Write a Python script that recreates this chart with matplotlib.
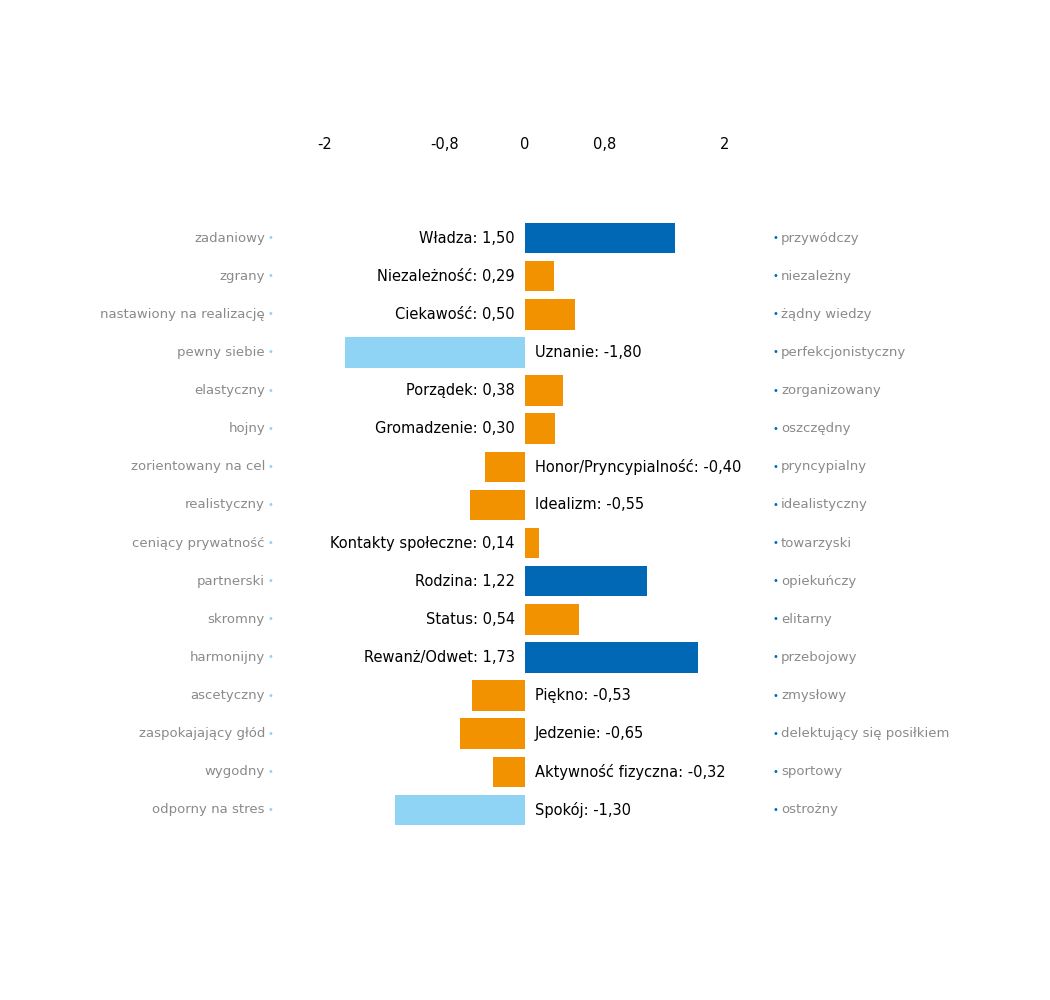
import matplotlib
matplotlib.use("Agg")
import matplotlib.pyplot as plt

names = ["Władza","Niezależność","Ciekawość","Uznanie","Porządek","Gromadzenie",
         "Honor/Pryncypialność","Idealizm","Kontakty społeczne","Rodzina","Status",
         "Rewanż/Odwet","Piękno","Jedzenie","Aktywność fizyczna","Spokój"]
values = [1.50,0.29,0.50,-1.80,0.38,0.30,-0.40,-0.55,0.14,1.22,0.54,1.73,-0.53,-0.65,-0.32,-1.30]
left_labels = ["zadaniowy","zgrany","nastawiony na realizację","pewny siebie","elastyczny","hojny",
               "zorientowany na cel","realistyczny","ceniący prywatność","partnerski","skromny",
               "harmonijny","ascetyczny","zaspokajający głód","wygodny","odporny na stres"]
right_labels = ["przywódczy","niezależny","żądny wiedzy","perfekcjonistyczny","zorganizowany",
                "oszczędny","pryncypialny","idealistyczny","towarzyski","opiekuńczy","elitarny",
                "przebojowy","zmysłowy","delektujący się posiłkiem","sportowy","ostrożny"]
tick_vals = [-2, -0.8, 0, 0.8, 2]
tick_labels = ["-2", "-0,8", "0", "0,8", "2"]

DB, OR, LB = "#0068b4", "#f39200", "#8fd3f5"
def col(v):
    return DB if v > 1 else (LB if v < -1 else OR)

fig = plt.figure(figsize=(10.5, 10), dpi=100)
ax = fig.add_axes([325/1050, 1-829/1000, 400/1050, 610/1000])
ys = list(range(len(values)))
ax.barh(ys, values, height=0.8, color=[col(v) for v in values])
ax.set_xlim(-2, 2)
ax.set_ylim(len(values)-0.5, -0.5)
for s in ax.spines.values():
    s.set_visible(False)
ax.set_yticks([])
ax.xaxis.tick_top()
ax.set_xticks(tick_vals)
ax.set_xticklabels(tick_labels, fontsize=10.5)
ax.tick_params(axis='x', length=0, pad=48)

tr = ax.get_yaxis_transform()
for y, n, v, l, r in zip(ys, names, values, left_labels, right_labels):
    lab = f"{n}: {v:.2f}".replace(".", ",")
    if v >= 0:
        ax.text(-0.1, y, lab, ha='right', va='center', fontsize=10.5)
    else:
        ax.text(0.1, y, lab, ha='left', va='center', fontsize=10.5)
    ax.text(-0.15, y, l, transform=tr, ha='right', va='center', fontsize=9.5, color="#8a8a8a")
    ax.text(-0.137, y, "•", transform=tr, ha='center', va='center', fontsize=7, color=LB)
    ax.text(1.125, y, "•", transform=tr, ha='center', va='center', fontsize=7, color=DB)
    ax.text(1.14, y, r, transform=tr, ha='left', va='center', fontsize=9.5, color="#8a8a8a")

fig.savefig("out.png", dpi=100)
